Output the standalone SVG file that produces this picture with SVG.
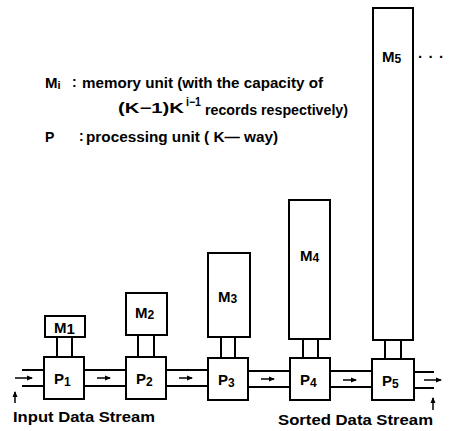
<svg xmlns="http://www.w3.org/2000/svg" width="456" height="431" viewBox="0 0 456 431">
<style>
.b{fill:#fff;stroke:#000;stroke-width:2}
.l{stroke:#000;stroke-width:2;fill:none}
.a{stroke:#000;stroke-width:1.5;fill:none}
.t{font-family:"Liberation Sans",Arial,sans-serif;font-weight:bold;fill:#000}
.n{font-size:15px}
.s{font-size:11px}
.g{font-size:14px}
</style>
<defs>
<marker id="ah" markerWidth="6" markerHeight="6" refX="5" refY="3" orient="auto" markerUnits="userSpaceOnUse"><path d="M0,0.5 L6,3 L0,5.5z" fill="#000"/></marker>
</defs>
<rect width="456" height="431" fill="#fff"/>
<g id="legend" class="t g">
<text x="45" y="88"><tspan class="n">M</tspan><tspan class="s" dy="1">i</tspan></text>
<text x="72" y="87">:</text>
<text x="82" y="88" textLength="241" lengthAdjust="spacingAndGlyphs">memory unit (with the capacity of</text>
<text x="118" y="113" textLength="66" lengthAdjust="spacingAndGlyphs">(K−1)K</text>
<text x="186" y="106" font-size="12px" textLength="15" lengthAdjust="spacingAndGlyphs">i−1</text>
<text x="205" y="115" textLength="143" lengthAdjust="spacingAndGlyphs">records respectively)</text>
<text x="45" y="142">P</text>
<text x="79" y="141">:</text>
<text x="86" y="142" textLength="192" lengthAdjust="spacingAndGlyphs">processing unit ( K— way)</text>
</g>
<g id="connectors">
<line class="l" x1="22" y1="370" x2="44" y2="370"/><line class="l" x1="22" y1="386" x2="44" y2="386"/>
<line class="a" x1="15" y1="378" x2="32" y2="378" marker-end="url(#ah)"/>
<line class="l" x1="84" y1="370" x2="126" y2="370"/><line class="l" x1="84" y1="386" x2="126" y2="386"/>
<line class="a" x1="97" y1="378" x2="110" y2="378" marker-end="url(#ah)"/>
<line class="l" x1="166" y1="370" x2="208" y2="370"/><line class="l" x1="166" y1="386" x2="208" y2="386"/>
<line class="a" x1="179" y1="378" x2="192" y2="378" marker-end="url(#ah)"/>
<line class="l" x1="248" y1="371" x2="290" y2="371"/><line class="l" x1="248" y1="387" x2="290" y2="387"/>
<line class="a" x1="261" y1="379" x2="274" y2="379" marker-end="url(#ah)"/>
<line class="l" x1="330" y1="371" x2="372" y2="371"/><line class="l" x1="330" y1="387" x2="372" y2="387"/>
<line class="a" x1="343" y1="380" x2="356" y2="380" marker-end="url(#ah)"/>
<line class="l" x1="414" y1="372" x2="434" y2="372"/><line class="l" x1="414" y1="388" x2="434" y2="388"/>
<line class="a" x1="424" y1="380" x2="441" y2="380" marker-end="url(#ah)"/>
<line class="l" x1="57" y1="337" x2="57" y2="357"/><line class="l" x1="72" y1="337" x2="72" y2="357"/>
<line class="l" x1="138" y1="335" x2="138" y2="357"/><line class="l" x1="154" y1="335" x2="154" y2="357"/>
<line class="l" x1="221" y1="337" x2="221" y2="358"/><line class="l" x1="235" y1="337" x2="235" y2="358"/>
<line class="l" x1="303" y1="339" x2="303" y2="358"/><line class="l" x1="318" y1="339" x2="318" y2="358"/>
<line class="l" x1="385" y1="340" x2="385" y2="359"/><line class="l" x1="401" y1="340" x2="401" y2="359"/>
<line class="a" x1="15" y1="403" x2="15" y2="392" marker-end="url(#ah)"/>
<line class="a" x1="433" y1="410" x2="433" y2="398" marker-end="url(#ah)"/>
</g>
<g id="M1"><rect class="b" x="45" y="316" width="40" height="21"/><text class="t n" x="54" y="333">M<tspan class="n" font-size="12px" dy="1">1</tspan></text></g>
<g id="M2"><rect class="b" x="126" y="293" width="41" height="42"/><text class="t n" x="135" y="318">M<tspan font-size="12px" dy="1">2</tspan></text></g>
<g id="M3"><rect class="b" x="208" y="253" width="42" height="84"/><text class="t n" x="218" y="302">M<tspan font-size="12px" dy="1">3</tspan></text></g>
<g id="M4"><rect class="b" x="289" y="200" width="41" height="139"/><text class="t n" x="300" y="261">M<tspan font-size="12px" dy="1">4</tspan></text></g>
<g id="M5"><rect class="b" x="373" y="8" width="40" height="332"/><text class="t n" x="382" y="62">M<tspan font-size="12px" dy="1">5</tspan></text><text class="t n" x="418" y="62" textLength="26" lengthAdjust="spacing">···</text></g>
<g id="P1"><rect class="b" x="44" y="357" width="40" height="42"/><text class="t n" x="54" y="384">P<tspan font-size="12px" dy="2">1</tspan></text></g>
<g id="P2"><rect class="b" x="126" y="357" width="40" height="42"/><text class="t n" x="136" y="384">P<tspan font-size="12px" dy="2">2</tspan></text></g>
<g id="P3"><rect class="b" x="208" y="358" width="40" height="42"/><text class="t n" x="218" y="385">P<tspan font-size="12px" dy="2">3</tspan></text></g>
<g id="P4"><rect class="b" x="290" y="358" width="40" height="42"/><text class="t n" x="300" y="385">P<tspan font-size="12px" dy="2">4</tspan></text></g>
<g id="P5"><rect class="b" x="372" y="359" width="42" height="41"/><text class="t n" x="382" y="386">P<tspan font-size="12px" dy="2">5</tspan></text></g>
<g id="labels" class="t g">
<text x="13" y="422" textLength="142" lengthAdjust="spacingAndGlyphs">Input Data Stream</text>
<text x="278" y="425" textLength="155" lengthAdjust="spacingAndGlyphs">Sorted Data Stream</text>
</g>
</svg>
